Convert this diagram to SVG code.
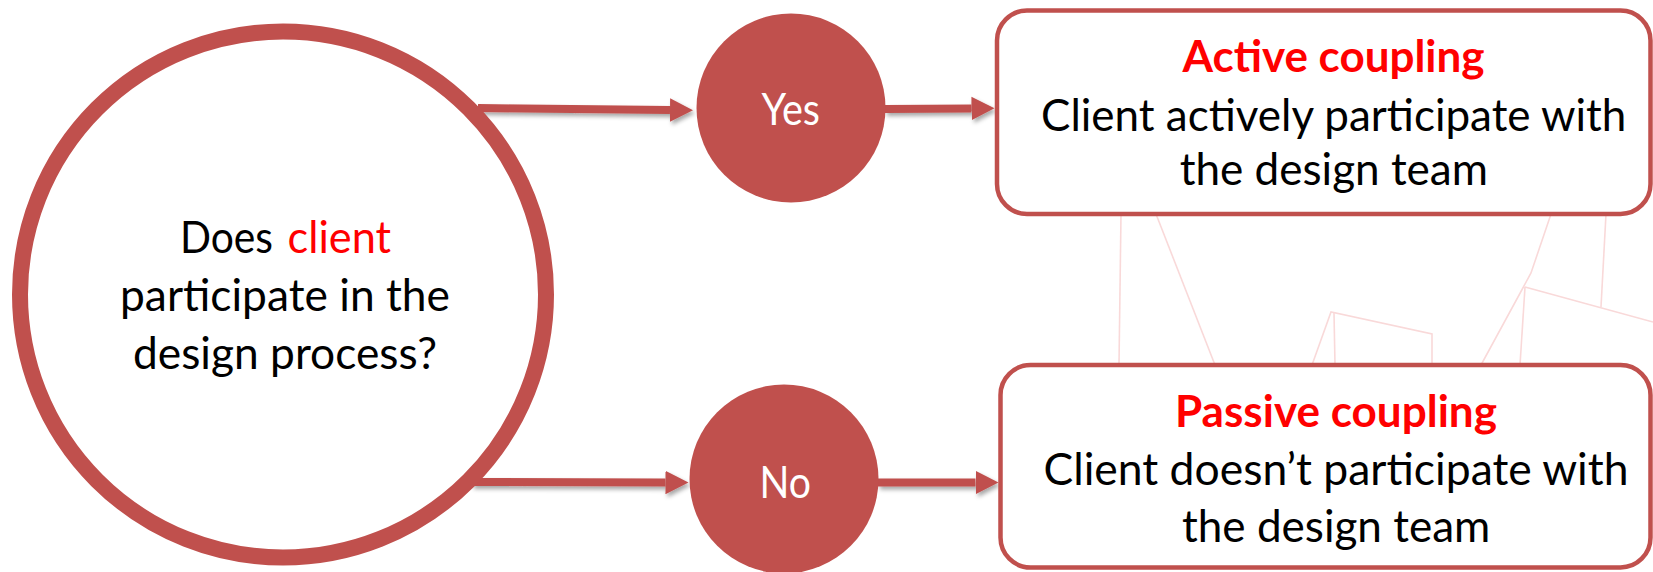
<svg xmlns="http://www.w3.org/2000/svg" width="1653" height="572" viewBox="0 0 1653 572">
  <style>
    .t { font-family: Lato, "Open Sans", "Liberation Sans", sans-serif; font-size: 43.5px; fill: #000; }
    .red { fill: #FF0000; }
    .hd { font-weight: bold; fill: #FF0000; }
    .wt { fill: #FFFFFF; }
    .box { fill: #FFFFFF; stroke: #C0504D; stroke-width: 4.5; }
    .dot { fill: #C0504D; }
    .conn { stroke: #C0504D; stroke-width: 8; fill: none; }
    .deco { stroke: #F9D9D9; stroke-width: 1.6; fill: none; }
  </style>
  <defs>
    <marker id="ah" markerUnits="userSpaceOnUse" markerWidth="24" markerHeight="24" refX="0" refY="12" orient="auto" viewBox="0 0 24 24">
      <path d="M0,0.3 L23,12 L0,23.7 Z" fill="#C0504D"/>
    </marker>
    <filter id="sh" x="-10%" y="-50%" width="120%" height="250%">
      <feDropShadow dx="2" dy="3" stdDeviation="2" flood-color="#000" flood-opacity="0.35"/>
    </filter>
  </defs>
  <rect width="1653" height="572" fill="#FFFFFF"/>

  <g id="background-lines" class="deco">
    <path d="M1121,214 L1119,365"/>
    <path d="M1156,214 L1215,365"/>
    <path d="M1312,365 L1331,312 L1432,334 L1432,365"/>
    <path d="M1334,313 L1335,365"/>
    <path d="M1551,214 L1531,273 L1481,365"/>
    <path d="M1525,287 L1653,322"/>
    <path d="M1525,287 L1520,365"/>
    <path d="M1606,214 L1601,307"/>
  </g>

  <g id="connectors" filter="url(#sh)">
    <line class="conn" x1="478" y1="108" x2="670" y2="110" marker-end="url(#ah)"/>
    <line class="conn" x1="885" y1="109" x2="971.5" y2="108.5" marker-end="url(#ah)"/>
    <line class="conn" x1="472" y1="482" x2="665.5" y2="482.5" marker-end="url(#ah)"/>
    <line class="conn" x1="878" y1="482.5" x2="975.5" y2="482.5" marker-end="url(#ah)"/>
  </g>

  <g id="node-question">
    <circle cx="283" cy="294.5" r="263" fill="#FFFFFF" stroke="#C0504D" stroke-width="16"/>
    <text class="t" x="180" y="253" textLength="93" lengthAdjust="spacingAndGlyphs">Does</text>
    <text class="t red" x="287.5" y="253" textLength="103.5" lengthAdjust="spacingAndGlyphs">client</text>
    <text class="t" x="120" y="311" textLength="330" lengthAdjust="spacingAndGlyphs">participate in the</text>
    <text class="t" x="133" y="369" textLength="304" lengthAdjust="spacingAndGlyphs">design process?</text>
  </g>

  <g id="node-yes">
    <circle class="dot" cx="791" cy="108" r="94.5"/>
    <text class="t wt" x="761.5" y="125" textLength="58.5" lengthAdjust="spacingAndGlyphs">Yes</text>
  </g>

  <g id="node-no">
    <circle class="dot" cx="784" cy="479" r="94.5"/>
    <text class="t wt" x="759.5" y="498.3" textLength="51.5" lengthAdjust="spacingAndGlyphs">No</text>
  </g>

  <g id="node-active">
    <rect class="box" x="997" y="10.5" width="653.5" height="203.5" rx="30" ry="30"/>
    <text class="t hd" x="1182.5" y="71.7" textLength="302" lengthAdjust="spacingAndGlyphs">Active coupling</text>
    <text class="t" x="1041" y="130.5" textLength="585.3" lengthAdjust="spacingAndGlyphs">Client actively participate with</text>
    <text class="t" x="1179.7" y="185" textLength="308.3" lengthAdjust="spacingAndGlyphs">the design team</text>
  </g>

  <g id="node-passive">
    <rect class="box" x="1000.5" y="365" width="650" height="202.5" rx="30" ry="30"/>
    <text class="t hd" x="1175" y="426.7" textLength="322" lengthAdjust="spacingAndGlyphs">Passive coupling</text>
    <text class="t" x="1043.5" y="485" textLength="585" lengthAdjust="spacingAndGlyphs">Client doesn’t participate with</text>
    <text class="t" x="1182" y="541.7" textLength="308.3" lengthAdjust="spacingAndGlyphs">the design team</text>
  </g>
</svg>
